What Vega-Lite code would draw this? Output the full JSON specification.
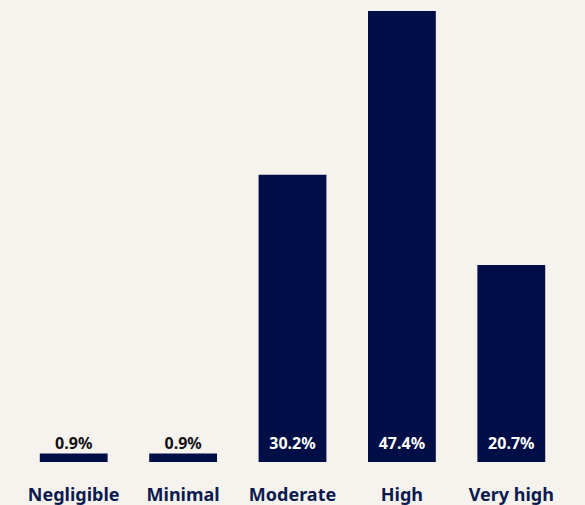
{
  "$schema": "https://vega.github.io/schema/vega-lite/v6.json",
  "width": 547,
  "height": 451,
  "autosize": {"type": "none"},
  "padding": {"left": 19, "top": 11, "right": 19, "bottom": 43},
  "background": "#f6f3ef",
  "config": {"view": {"stroke": null}, "font": "Noto Sans"},
  "data": {"values": [
    {"level": "Negligible", "pct": 0.9},
    {"level": "Minimal", "pct": 0.9},
    {"level": "Moderate", "pct": 30.2},
    {"level": "High", "pct": 47.4},
    {"level": "Very high", "pct": 20.7}
  ]},
  "encoding": {
    "x": {"field": "level", "type": "nominal", "sort": null,
      "scale": {"paddingInner": 0.38, "paddingOuter": 0.19},
      "axis": {"title": null, "labelAngle": 0, "domain": false, "ticks": false, "grid": false,
        "labelFont": "Noto Sans", "labelFontWeight": "bold", "labelFontSize": 18,
        "labelColor": "#0b1a4e", "labelBaseline": "alphabetic", "labelPadding": 38}}
  },
  "layer": [
    {"mark": {"type": "bar", "color": "#000e48"},
     "encoding": {"y": {"field": "pct", "type": "quantitative", "scale": {"domain": [0, 47.4], "nice": false}, "axis": null}}},
    {"mark": {"type": "text", "baseline": "alphabetic", "dy": -13, "fontSize": 16, "fontWeight": "bold", "font": "Noto Sans",
       "text": {"expr": "format(datum.pct, '.1f') + '%'"}},
     "encoding": {
       "y": {"datum": 0, "type": "quantitative"},
       "color": {"condition": {"test": "datum.pct > 5", "value": "#ffffff"}, "value": "#111111"}
     }}
  ]
}
